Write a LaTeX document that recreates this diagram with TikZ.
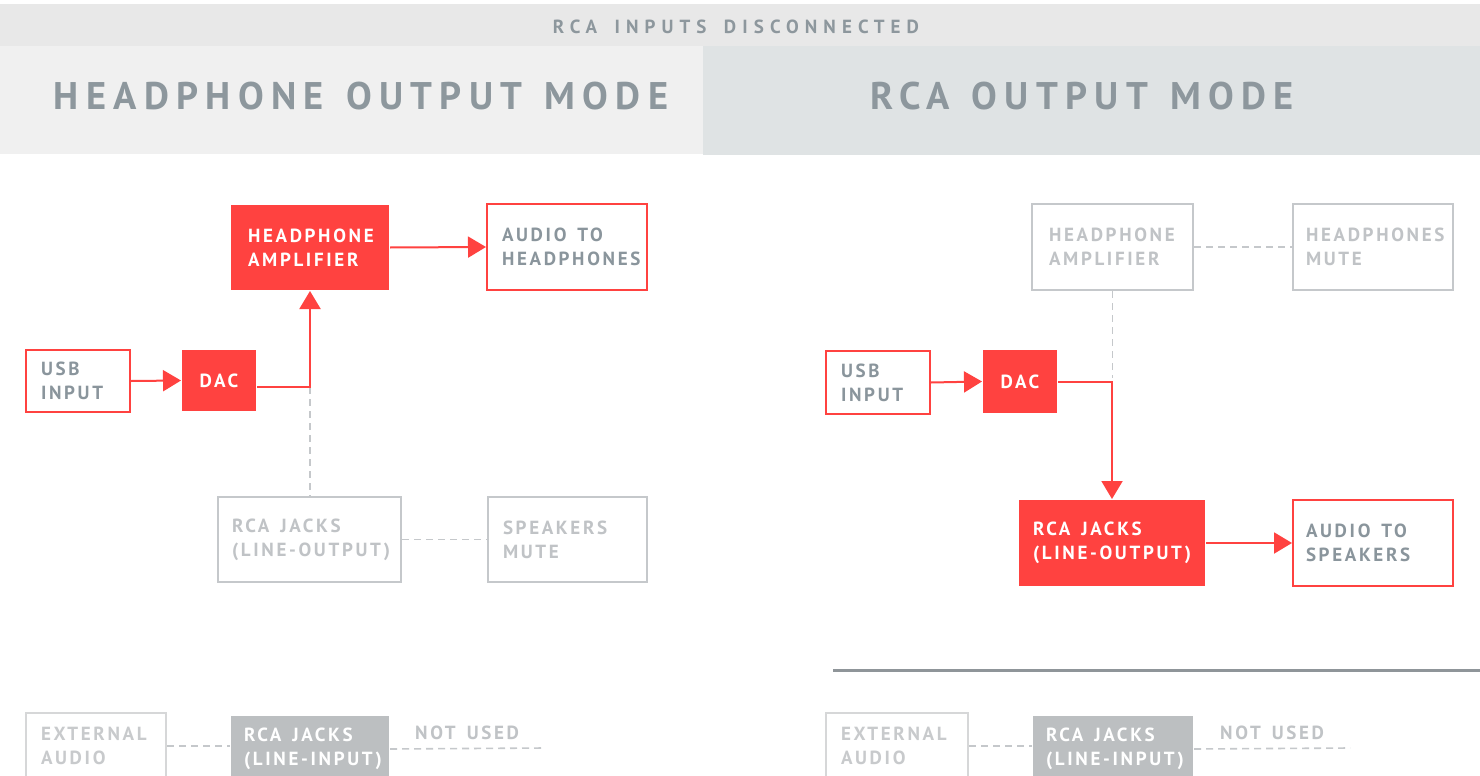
\documentclass[tikz,border=0pt]{standalone}
\usepackage{fontspec}
\setmainfont{PT Sans}
\newfontfamily\boxfont[LetterSpace=14]{PT Sans}
\newfontfamily\hdrfont[LetterSpace=19,WordSpace=1.3]{PT Sans}
\newfontfamily\topfont[LetterSpace=32,WordSpace=1.6]{PT Sans}
\usetikzlibrary{arrows.meta}
\definecolor{cred}{HTML}{FF4240}
\definecolor{cdark}{HTML}{8A959C}
\definecolor{cgrayb}{HTML}{C5C8CB}
\definecolor{cgrayt}{HTML}{C0C3C6}
\definecolor{cextb}{HTML}{D6D7D8}
\definecolor{cextt}{HTML}{C8CACC}
\definecolor{cinfill}{HTML}{BCBFC1}
\definecolor{cband}{HTML}{E8E8E8}
\definecolor{cleft}{HTML}{F0F0F0}
\definecolor{cright}{HTML}{DFE3E4}
\definecolor{csep}{HTML}{8F9599}
\definecolor{chdr}{HTML}{8D979D}
\tikzset{
  base/.style={inner xsep=15pt, inner ysep=0pt, align=left, line width=2pt,
    font={\boxfont\bfseries\fontsize{19}{24}\selectfont},
    execute at begin node={\hyphenpenalty=10000\exhyphenpenalty=10000\hbadness=10000\hfuzz=100pt\spaceskip=11pt\xspaceskip=11pt}},
  redfill/.style={base, fill=cred, text=white},
  redline/.style={base, draw=cred, fill=white, text=cdark},
  grayline/.style={base, draw=cgrayb, fill=white, text=cgrayt},
  extline/.style={base, draw=cextb, fill=white, text=cextt},
  grayfill/.style={base, fill=cinfill, text=white},
  plain/.style={inner sep=0pt, text=cgrayt, font={\boxfont\bfseries\fontsize{19}{24}\selectfont},
    execute at begin node={\spaceskip=11pt\xspaceskip=11pt}},
  hdr/.style={inner sep=0pt, text=chdr, font={\hdrfont\bfseries\fontsize{38.5}{40}\selectfont}},
  toptext/.style={inner sep=0pt, text=chdr, font={\topfont\bfseries\fontsize{19}{20}\selectfont}},
  arr/.style={draw=cred, line width=2pt, -{Triangle[length=18pt,width=21pt]}},
  dsh/.style={draw=cgrayb, line width=1.6pt, dash pattern=on 7pt off 5pt},
}
\begin{document}
\begin{tikzpicture}[x=1pt,y=-1pt]
\useasboundingbox (0,0) rectangle (1480,776);
\fill[white] (0,0) rectangle (1480,776);
% header bands
\fill[cband] (0,4) rectangle (1480,46);
\fill[cleft] (0,46) rectangle (703,154);
\fill[cright] (703,46) rectangle (1480,155);
\node[toptext] (top) at (736,27) {RCA INPUTS DISCONNECTED};
\node[hdr] (hdrL) at (361,96) {HEADPHONE OUTPUT MODE};
\node[hdr] (hdrR) at (1082,96) {RCA OUTPUT MODE};
% ---------- left: headphone output mode ----------
\node[redline, minimum width=104, text width=74, minimum height=62] (usbL) at (78,381) {USB\\INPUT};
\node[redfill, minimum width=74, text width=44, minimum height=61, align=center] (dacL) at (219,380.5) {DAC};
\node[redfill, minimum width=158, text width=124, minimum height=85, inner xsep=17pt] (ampL) at (310,247.5) {HEADPHONE\\AMPLIFIER};
\node[redline, minimum width=160, text width=130, minimum height=86] (audL) at (567,247) {AUDIO TO\\HEADPHONES};
\node[grayline, minimum width=183, text width=155, minimum height=85, inner xsep=14pt] (rcaL) at (309.5,539.5) {RCA JACKS\\(LINE-OUTPUT)};
\node[grayline, minimum width=159, text width=129, minimum height=85] (spkL) at (567.5,539.5) {SPEAKERS\\MUTE};
\coordinate (jL) at (310,387);
\draw[arr] (usbL.east) -- (dacL.west);
\draw[dsh] (jL) -- (jL |- rcaL.north);
\draw[arr] ([yshift=-6.5pt]dacL.east) -- (jL) -- (ampL.south);
\draw[arr] (ampL.east) -- (audL.west);
\draw[dsh] (rcaL.east) -- (spkL.west);
% bottom left
\node[extline, minimum width=140, text width=110, minimum height=66] (extL) at (96,746) {EXTERNAL\\AUDIO};
\node[grayfill, minimum width=158, text width=132, minimum height=66, inner xsep=13pt] (inL) at (310,749) {RCA JACKS\\(LINE-INPUT)};
\node[plain, anchor=west] (nuL) at (415,733) {NOT USED};
\coordinate (eL) at (545,748);
\draw[dsh] (extL.east) -- (extL.east -| inL.west);
\draw[dsh] (inL.east) -- (eL);
% ---------- right: RCA output mode ----------
\node[grayline, minimum width=161, text width=127, minimum height=86, inner xsep=17pt] (ampR) at (1112.5,247) {HEADPHONE\\AMPLIFIER};
\node[grayline, minimum width=160, text width=134, minimum height=86, inner xsep=13pt] (muteR) at (1373,247) {HEADPHONES\\MUTE};
\node[redline, minimum width=104, text width=74, minimum height=63] (usbR) at (878,382.5) {USB\\INPUT};
\node[redfill, minimum width=74, text width=44, minimum height=63, align=center] (dacR) at (1020,381.5) {DAC};
\node[redfill, minimum width=186, text width=158, minimum height=86, inner xsep=14pt] (rcaR) at (1112,543) {RCA JACKS\\(LINE-OUTPUT)};
\node[redline, minimum width=160, text width=134, minimum height=86, inner xsep=13pt] (spkR) at (1373,543) {AUDIO TO\\SPEAKERS};
\coordinate (jR) at (1112,378);
\draw[dsh] (ampR.south) -- (ampR.south |- jR);
\draw[arr] (usbR.east) -- (dacR.west);
\draw[arr] (dacR.east) -| (rcaR.north);
\draw[dsh] (ampR.east) -- (muteR.west);
\draw[arr] (rcaR.east) -- (spkR.west);
% separator
\coordinate (sA) at (833,670);
\coordinate (sB) at (1480,670);
\draw[csep, line width=3pt] (sA) -- (sB);
% bottom right
\node[extline, minimum width=142, text width=112, minimum height=66] (extR) at (897,746) {EXTERNAL\\AUDIO};
\node[grayfill, minimum width=160, text width=134, minimum height=66, inner xsep=13pt] (inR) at (1113,749) {RCA JACKS\\(LINE-INPUT)};
\node[plain, anchor=west] (nuR) at (1220,733) {NOT USED};
\coordinate (eR) at (1350,748);
\draw[dsh] (extR.east) -- (extR.east -| inR.west);
\draw[dsh] (inR.east) -- (eR);
\end{tikzpicture}
\end{document}
